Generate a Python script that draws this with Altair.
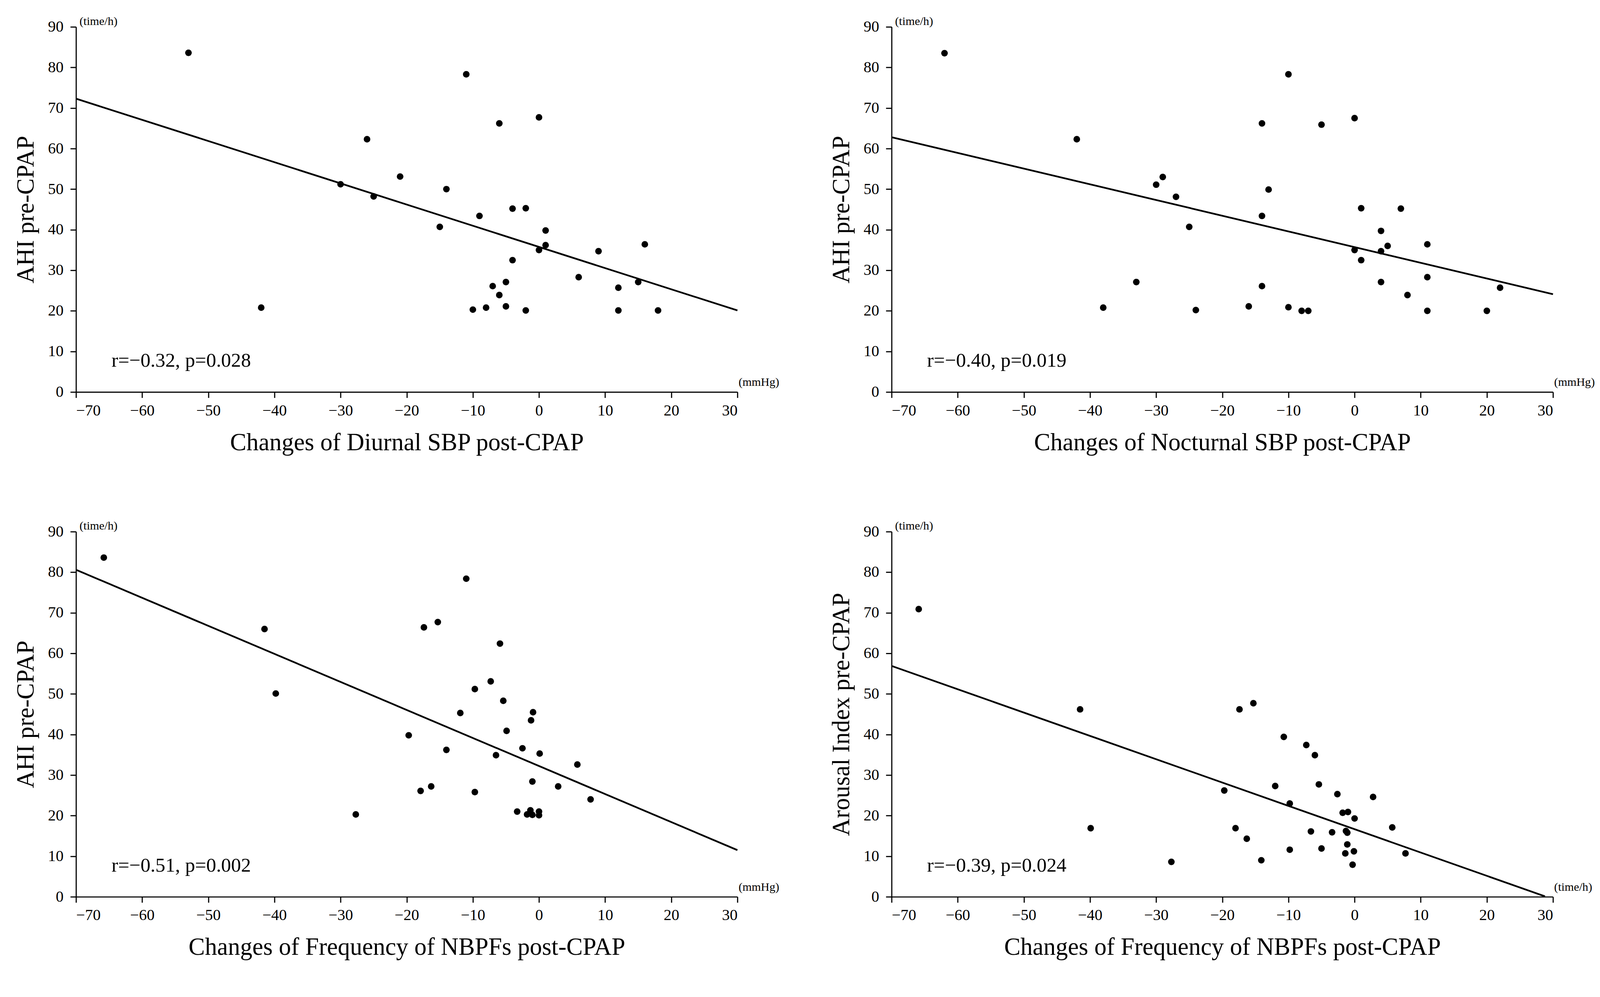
import altair as alt
import pandas as pd

FONT = "Liberation Serif"

# Panel 1: Changes of Diurnal SBP vs AHI
p1_x = [-53, -42, -30, -26, -25, -21, -15, -14, -11, -10, -9, -8, -7, -6, -6, -5, -5,
        -4, -4, -2, -2, 0, 0, 1, 1, 6, 9, 12, 12, 15, 16, 18]
p1_y = [83.6, 20.8, 51.2, 62.3, 48.2, 53.1, 40.7, 50.0, 78.3, 20.3, 43.4, 20.8, 26.1, 66.2,
        23.9, 27.1, 21.1, 45.2, 32.5, 45.3, 20.1, 67.7, 35.0, 39.8, 36.2, 28.3, 34.7, 25.7,
        20.1, 27.1, 36.4, 20.1]
p1_line_x = [-70, 30]
p1_line_y = [72.3, 20.1]

# Panel 2: Changes of Nocturnal SBP vs AHI
p2_x = [-62, -42, -38, -33, -30, -29, -27, -25, -24, -16, -14, -14, -14, -13, -10, -10, -8,
        -7, -5, 0, 0, 1, 1, 4, 4, 4, 5, 7, 8, 11, 11, 11, 20, 22]
p2_y = [83.5, 62.3, 20.8, 27.1, 51.1, 53.0, 48.1, 40.7, 20.2, 21.1, 66.2, 43.4, 26.1, 49.9,
        78.3, 20.9, 20.0, 20.0, 65.9, 67.5, 35.0, 45.3, 32.5, 39.7, 34.7, 27.1, 36.0, 45.2,
        23.9, 36.4, 28.3, 20.0, 20.0, 25.7]
p2_line_x = [-70, 30]
p2_line_y = [62.8, 24.1]

# Panel 3: Changes of Frequency of NBPFs vs AHI
p3_x = [-65.8, -41.5, -39.8, -27.7, -19.7, -17.9, -17.4, -16.3, -15.3, -14.0, -11.9, -11.0,
        -9.7, -9.7, -7.3, -6.5, -5.9, -5.4, -4.9, -3.3, -2.5, -1.8, -1.3, -1.2, -1.0, -1.0,
        -0.9, 0.0, 0.0, 0.1, 2.9, 5.8, 7.8]
p3_y = [83.6, 66.0, 50.1, 20.3, 39.8, 26.1, 66.4, 27.2, 67.7, 36.2, 45.3, 78.4, 51.2, 25.8,
        53.1, 34.9, 62.4, 48.3, 40.9, 21.0, 36.6, 20.3, 21.3, 43.5, 28.4, 20.2, 45.5, 21.0,
        20.1, 35.3, 27.2, 32.6, 24.0]
p3_line_x = [-70, 30]
p3_line_y = [80.6, 11.5]

# Panel 4: Changes of Frequency of NBPFs vs Arousal Index
p4_x = [-65.9, -41.5, -39.9, -27.7, -19.7, -18.0, -17.4, -16.3, -15.3, -14.1, -12.0, -10.7,
        -9.8, -9.8, -7.3, -6.6, -6.0, -5.4, -5.0, -3.4, -2.6, -1.8, -1.4, -1.3, -1.1, -1.1,
        -1.0, -0.3, -0.1, 0.0, 2.8, 5.7, 7.7]
p4_y = [70.9, 46.2, 16.9, 8.6, 26.2, 16.9, 46.2, 14.3, 47.7, 9.0, 27.3, 39.4, 23.0, 11.6,
        37.4, 16.1, 34.9, 27.7, 11.9, 15.9, 25.3, 20.7, 10.7, 16.2, 15.8, 12.9, 20.9, 7.9,
        11.2, 19.3, 24.6, 17.1, 10.7]
p4_line_x = [-70, 28.8]
p4_line_y = [56.9, 0.1]

x_ticks = [-70, -60, -50, -40, -30, -20, -10, 0, 10, 20, 30]
y_ticks = [0, 10, 20, 30, 40, 50, 60, 70, 80, 90]

titles = [
    ("Changes of Diurnal SBP post-CPAP", "AHI pre-CPAP", "r=\u22120.32, p=0.028", "(mmHg)"),
    ("Changes of Nocturnal SBP post-CPAP", "AHI pre-CPAP", "r=\u22120.40, p=0.019", "(mmHg)"),
    ("Changes of Frequency of NBPFs post-CPAP", "AHI pre-CPAP", "r=\u22120.51, p=0.002", "(mmHg)"),
    ("Changes of Frequency of NBPFs post-CPAP", "Arousal Index pre-CPAP", "r=\u22120.39, p=0.024", "(time/h)"),
]

W = 1733
H = 957


def panel(xs, ys, lx, ly, xtitle, ytitle, stat, xunit, h):
    pts = pd.DataFrame({"x": xs, "y": ys})
    ln = pd.DataFrame({"x": lx, "y": ly})
    one = pd.DataFrame({"k": [0]})
    xsc = alt.Scale(domain=[-70, 30], nice=False, zero=False)
    ysc = alt.Scale(domain=[0, 90], nice=False, zero=False)
    line = alt.Chart(ln).mark_line(color="black", strokeWidth=4.5).encode(
        x=alt.X("x:Q", scale=xsc, axis=alt.Axis(values=x_ticks, title=xtitle)),
        y=alt.Y("y:Q", scale=ysc, axis=alt.Axis(values=y_ticks, title=ytitle)),
    )
    points = alt.Chart(pts).mark_circle(size=300, color="black", opacity=1).encode(
        x=alt.X("x:Q", scale=xsc),
        y=alt.Y("y:Q", scale=ysc),
    )
    stat_t = alt.Chart(one).mark_text(
        text=stat, align="left", baseline="alphabetic", font=FONT, fontSize=52, color="black"
    ).encode(x=alt.value(93), y=alt.value(h - 66))
    yunit_t = alt.Chart(one).mark_text(
        text="(time/h)", align="left", baseline="alphabetic", font=FONT, fontSize=31, color="black"
    ).encode(x=alt.value(9), y=alt.value(-5))
    xunit_t = alt.Chart(one).mark_text(
        text=xunit, align="left", baseline="alphabetic", font=FONT, fontSize=31, color="black"
    ).encode(x=alt.value(W + 3), y=alt.value(h - 16))
    return alt.layer(line, points, stat_t, yunit_t, xunit_t).properties(width=W, height=h)


p1 = panel(p1_x, p1_y, p1_line_x, p1_line_y, *titles[0], h=H)
p2 = panel(p2_x, p2_y, p2_line_x, p2_line_y, *titles[1], h=H)
p3 = panel(p3_x, p3_y, p3_line_x, p3_line_y, *titles[2], h=H)
p4 = panel(p4_x, p4_y, p4_line_x, p4_line_y, *titles[3], h=H)

chart = alt.concat(
    p1, p2, p3, p4,
    columns=2,
    spacing=alt.RowColnumber(row=366, column=404),
    bounds="flush",
).properties(
    padding={"left": 28, "top": 3, "right": 5, "bottom": 5},
    background="white",
).configure_view(
    strokeWidth=0
).configure_axis(
    grid=False,
    domainColor="black",
    domainWidth=3,
    tickColor="black",
    tickWidth=3,
    tickSize=15,
    labelFont=FONT,
    labelFontSize=41,
    labelColor="black",
    titleFont=FONT,
    titleFontSize=64,
    titleFontWeight="normal",
    titleColor="black",
).configure_axisX(
    labelPadding=14,
    titlePadding=32,
).configure_axisY(
    labelPadding=18,
    titlePadding=25,
)

chart.save("out.html", embed_options={"renderer": "svg", "actions": False})
